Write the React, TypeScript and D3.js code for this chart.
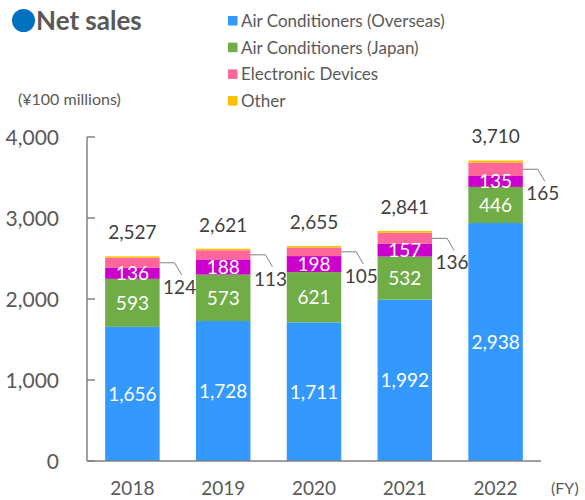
import React from "react";
import * as d3 from "d3";

const years = ["2018", "2019", "2020", "2021", "2022"];
const overseas = [1656, 1728, 1711, 1992, 2938];
const japan = [593, 573, 621, 532, 446];
const chemicals = [136, 188, 198, 157, 135];
const electronic = [124, 113, 105, 136, 165];
const other = [18, 19, 20, 24, 26];
const totals = [2527, 2621, 2655, 2841, 3710];
const yTicks = [0, 1000, 2000, 3000, 4000];

const seriesNames = ["overseas", "japan", "chemicals", "electronic", "other"];
const seriesColors = ["#3399FF", "#70AD47", "#CC00CC", "#FF6699", "#FFC000"];
const legendItems = [
  { name: "Air Conditioners (Overseas)", color: "#3399FF" },
  { name: "Air Conditioners (Japan)", color: "#70AD47" },
  { name: "Electronic Devices", color: "#FF6699" },
  { name: "Other", color: "#FFC000" },
];

const FONT = "Lato, 'Open Sans', sans-serif";

export default function App() {
  const W = 585, H = 500;
  const x = d3.scaleBand().domain(years).range([87, 541]).paddingInner(0.4).paddingOuter(0.2);
  const y = d3.scaleLinear().domain([0, 4000]).range([461, 137]);
  const fmt = d3.format(",");

  const rows = years.map((yr, i) => ({
    year: yr,
    overseas: overseas[i],
    japan: japan[i],
    chemicals: chemicals[i],
    electronic: electronic[i],
    other: other[i],
  }));
  const stack = d3.stack<any>().keys(seriesNames)(rows);
  const bw = x.bandwidth();

  return (
    <svg width={W} height={H} style={{ position: "absolute", left: 0, top: 0 }} fontFamily={FONT}>
      {/* title */}
      <circle cx={23.5} cy={20.5} r={11.5} fill="#0070C0" />
      <text x={36} y={30} fontSize={26} fontWeight="bold" fill="#595959">Net sales</text>
      <text x={18} y={105} fontSize={16} fill="#595959">(¥100 millions)</text>

      {/* legend */}
      {legendItems.map((d, i) => (
        <g key={d.name} transform={`translate(228, ${21 + i * 26.7})`}>
          <rect x={0} y={-5} width={9.5} height={9.5} fill={d.color} />
          <text x={13} y={0} dy="0.35em" fontSize={17} fill="#595959">{d.name}</text>
        </g>
      ))}

      {/* bars */}
      {stack.map((s, si) => (
        <g key={seriesNames[si]}>
          {s.map((d, i) => (
            <rect
              key={i}
              x={x(years[i])!}
              y={y(d[1])}
              width={bw}
              height={y(d[0]) - y(d[1])}
              fill={seriesColors[si]}
            />
          ))}
        </g>
      ))}

      {/* in-bar labels */}
      {stack.slice(0, 3).map((s, si) =>
        s.map((d, i) => (
          <text
            key={`${si}-${i}`}
            x={x(years[i])! + bw / 2}
            y={(y(d[0]) + y(d[1])) / 2}
            dy="0.36em"
            textAnchor="middle"
            fontSize={19}
            fill="#ffffff"
          >
            {fmt(d[1] - d[0])}
          </text>
        ))
      )}

      {/* callouts for electronic devices */}
      {stack[3].map((d, i) => {
        const mid = (y(d[0]) + y(d[1])) / 2;
        const xr = x(years[i])! + bw;
        return (
          <g key={`c${i}`}>
            <polyline
              points={`${xr},${mid} ${xr + 15},${mid} ${xr + 22},${mid + 12}`}
              fill="none"
              stroke="#7f7f7f"
              strokeWidth={1}
            />
            <text x={xr + 20} y={mid + 24} dy="0.36em" textAnchor="middle" fontSize={19} fill="#404040">
              {fmt(d[1] - d[0])}
            </text>
          </g>
        );
      })}

      {/* totals */}
      {totals.map((t, i) => (
        <text
          key={`t${i}`}
          x={x(years[i])! + bw / 2}
          y={y(t) - 24}
          dy="0.36em"
          textAnchor="middle"
          fontSize={19}
          fill="#404040"
        >
          {fmt(t)}
        </text>
      ))}

      {/* axes */}
      <line x1={87} x2={87} y1={137} y2={461} stroke="#808080" strokeWidth={1.5} />
      <line x1={87} x2={541} y1={461} y2={461} stroke="#808080" strokeWidth={1.5} />
      {yTicks.map((t) => (
        <g key={t}>
          <line x1={87} x2={95} y1={y(t)} y2={y(t)} stroke="#808080" strokeWidth={1.5} />
          <text x={59} y={y(t)} dy="0.36em" textAnchor="end" fontSize={21} fill="#595959">
            {fmt(t)}
          </text>
        </g>
      ))}
      {years.map((yr) => (
        <text key={yr} x={x(yr)! + bw / 2} y={495} textAnchor="middle" fontSize={19} fill="#595959">
          {yr}
        </text>
      ))}
      <text x={551} y={494} fontSize={16} fill="#595959">(FY)</text>
    </svg>
  );
}
